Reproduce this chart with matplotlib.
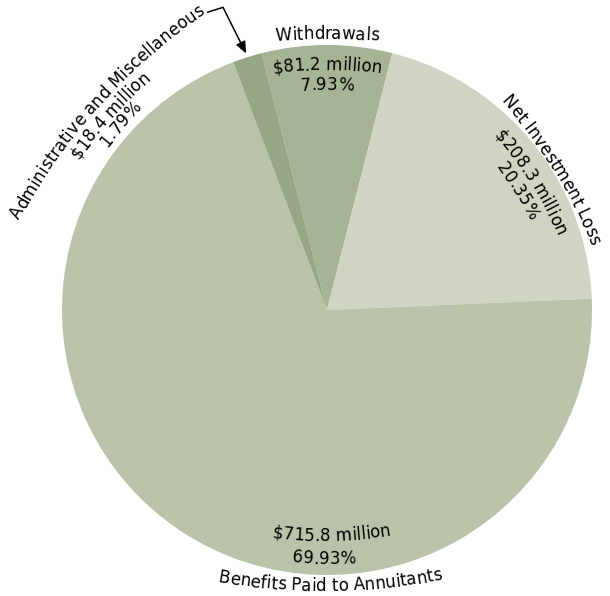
import numpy as np
import matplotlib.pyplot as plt
from matplotlib.font_manager import FontProperties, findfont
from matplotlib.ft2font import FT2Font

# slices, clockwise from 12 o'clock
categories = ['Withdrawals', 'Net Investment Loss',
              'Benefits Paid to Annuitants', 'Administrative and Miscellaneous']
amounts = [81.2, 208.3, 715.8, 18.4]          # $ million
percents = [7.93, 20.35, 69.93, 1.79]
colors = ['#a6b395', '#d0d4c3', '#b9c3aa', '#97a683']

FONT = 'DejaVu Sans'
SIZE = 12
DPI = 100
CX, CY, R = 327, 286, 265

fig = plt.figure(figsize=(6.1, 5.96), dpi=DPI)
ax = fig.add_axes([0, 0, 1, 1])

start = 90 + 360 * percents[0] / 100 / 2
wedges, _ = ax.pie(amounts, colors=colors, startangle=start, counterclock=False,
                   center=(CX, CY), radius=R, wedgeprops=dict(linewidth=0))
ax.set_xlim(0, 610)
ax.set_ylim(0, 596)
ax.set_aspect('equal')
ax.axis('off')

ft = FT2Font(findfont(FontProperties(family=FONT)))
ft.set_size(SIZE, 72)


def advances(s):
    return np.array([ft.load_char(ord(c)).linearHoriAdvance / 65536 * DPI / 72 for c in s])


def polar(ang, r, cx=CX, cy=CY):
    t = np.radians(ang)
    return cx + r * np.sin(t), cy + r * np.cos(t)


def arc_text(s, ang, r, rc, outward=True):
    """Write s on a baseline arc of curvature radius rc whose midpoint sits at
    radius r, angle ang (degrees clockwise from 12 o'clock) of the pie.
    Returns the (x, y) of the end of the string."""
    px, py = polar(ang, r)
    ox, oy = polar(ang, -rc, px, py)          # centre of the text arc
    adv = advances(s)
    pos = np.cumsum(adv) - adv / 2 - adv.sum() / 2
    sign = 1 if outward else -1
    for c, p in zip(s, pos):
        th = ang + sign * np.degrees(p / rc)
        rot = -th if outward else 180 - th
        x, y = polar(th, rc, ox, oy)
        ax.text(x, y, c, fontsize=SIZE, family=FONT, rotation=rot,
                ha='center', va='baseline', rotation_mode='anchor')
    return polar(ang + sign * np.degrees(adv.sum() / 2 / rc), rc, ox, oy)


def mid(w):
    return 90 - (w.theta1 + w.theta2) / 2


labels = [f'${a} million' for a in amounts]
pcts = [f'{p:.2f}%' for p in percents]

# Withdrawals
a = mid(wedges[0])
arc_text(categories[0], a, 271, 700)
arc_text(labels[0], a, 240, 400)
arc_text(pcts[0], a, 220, 400)

# Net Investment Loss
a = 58
arc_text(categories[1], a, 265, 500)
arc_text(labels[1], a, 238, 400)
arc_text(pcts[1], a, 220, 400)

# Benefits Paid to Annuitants (reads along the bottom)
arc_text(labels[2], 178.8, 231, 400, outward=False)
arc_text(pcts[2], 180.7, 254, 400, outward=False)
arc_text(categories[2], 179.3, 281, 600, outward=False)

# Administrative and Miscellaneous, set outside with a leader
a = -48
x0, y0 = arc_text(categories[3], a, 306, 580)
arc_text(labels[3], a, 289, 420)
arc_text(pcts[3], a, 273, 420)

x0, y0 = x0 + 2, y0 + 1
knee = (x0 + 16, y0 + 5)
tip = polar(mid(wedges[3]), R + 4)
ax.plot([x0, knee[0]], [y0, knee[1]], color='black', lw=1.1, solid_capstyle='butt')
ax.annotate('', xy=tip, xytext=knee,
            arrowprops=dict(arrowstyle='-|>,head_length=0.7,head_width=0.3',
                            color='black', lw=1.1, shrinkA=0, shrinkB=0))

fig.savefig('out.png', dpi=DPI)
